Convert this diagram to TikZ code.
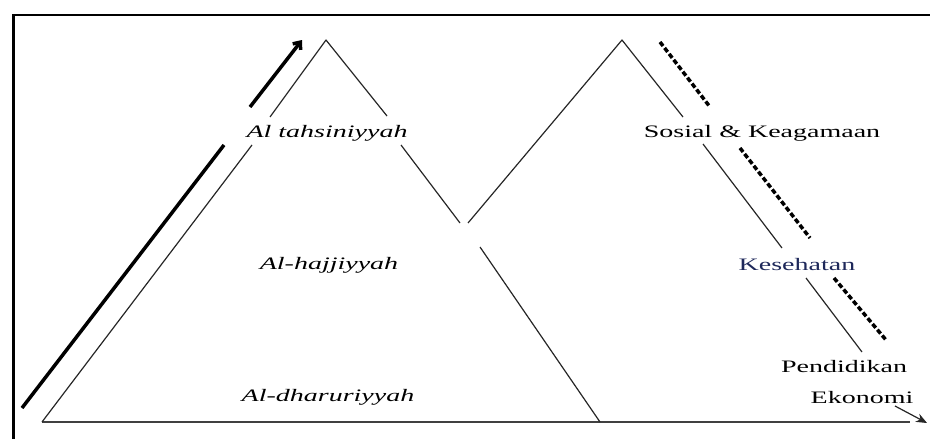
\documentclass[tikz,border=0pt]{standalone}
\usepackage{fontspec}
\setmainfont{Liberation Serif}
\usetikzlibrary{arrows.meta}
\definecolor{navytext}{RGB}{30,40,90}
\newcommand{\stretchtxt}[1]{\scalebox{1.6}[1]{#1}}
\tikzset{
  side/.style={line width=1.2pt, draw=black!85},
  climb/.style={line width=3.5pt, line cap=butt},
  descent/.style={line width=3.5pt, line cap=butt, dash pattern=on 5pt off 2.5pt},
  lbl/.style={font=\fontsize{17.5}{20}\selectfont, inner sep=0pt},
  ilbl/.style={lbl, font=\fontsize{17.5}{20}\selectfont\itshape}
}

\begin{document}
\begin{tikzpicture}[x=1pt, y=-1pt, line join=round]
	\useasboundingbox (0,0) rectangle (930,439);
	% frame
	\draw[line width=2pt] (930,15) -- (13,15);
	\draw[line width=3pt] (13,14) -- (13,439);
	% base line
	\draw[line width=1.6pt, black!75] (42,422) -- (910,422);
	% first triangle
	\draw[side] (42,422) -- (252,145);
	\draw[side] (270,117) -- (326,40) -- (387,116);
	\draw[side] (401,145) -- (460,223);
	\draw[side] (480,247) -- (600,422);
	% second triangle
	\draw[side] (468,223) -- (622,40) -- (683,117);
	\draw[side] (703,144) -- (782,248);
	\draw[side] (806,278) -- (862,352);
	\draw[side, -{Stealth[length=11pt, width=9pt]}] (895,406) -- (927,423);
	% rising arrow
	\draw[climb] (22,408) -- (224,145);
	\draw[climb, -{Straight Barb[length=6pt, width=10pt]}] (250,107) -- (302,40);
	% falling dashed line
	\draw[descent] (660,42) -- (710,107);
	\draw[descent] (740,148) -- (810,238);
	\draw[descent] (834,278) -- (886,340);
	% labels
	\node[ilbl] (tahsin) at (327,133) {\stretchtxt{Al tahsiniyyah}};
	\node[ilbl] (hajji) at (329,265) {\stretchtxt{Al-hajjiyyah}};
	\node[ilbl] (dharuri) at (328,397) {\stretchtxt{Al-dharuriyyah}};
	\node[lbl] (sosial) at (762,133) {\stretchtxt{Sosial \& Keagamaan}};
	\node[lbl, text=navytext] (sehat) at (797,265) {\stretchtxt{Kesehatan}};
	\node[lbl] (didik) at (844,367) {\stretchtxt{Pendidikan}};
	\node[lbl] (ekonomi) at (862,398) {\stretchtxt{Ekonomi}};
\end{tikzpicture}
\end{document}
